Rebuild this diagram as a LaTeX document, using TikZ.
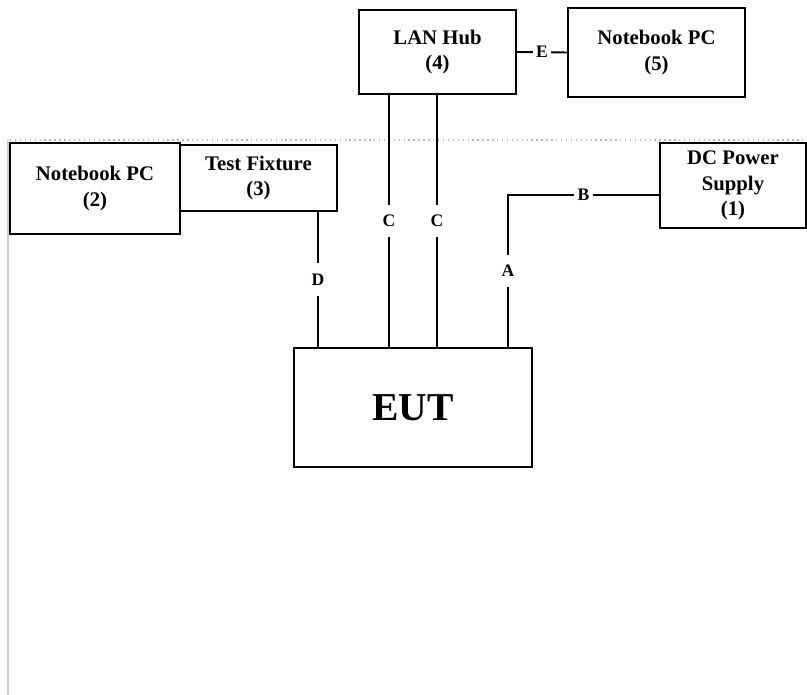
\documentclass[tikz,border=0pt]{standalone}
\usepackage{fontspec}
\setmainfont{Liberation Serif}
\usepackage{tikz}
\usetikzlibrary{shapes,arrows}
\tikzstyle{unit} = [rectangle, draw=black, line width=1.3pt, align=center, inner sep=0pt, font=\fontsize{11.8}{14.5}\selectfont\bfseries]
\tikzstyle{cable} = [draw, line width=1.1pt]
\tikzstyle{tag} = [fill=white, inner xsep=2pt, inner ysep=6pt, font=\fontsize{10}{12}\selectfont\bfseries]

\begin{document}
\begin{tikzpicture}[x=0.02cm,y=-0.02cm]
    \useasboundingbox (0,0) rectangle (807,695);
    \begin{scope}

    % page frame
    \draw[gray!55, line width=0.8pt, dotted] (10,140) -- (807,140);
    \draw[gray!40, line width=1.2pt] (8,140) -- (8,695);

    \node[unit, minimum width=3.4cm, minimum height=1.82cm] (nbtwo) at (95,188.5) {Notebook PC\\(2)};
    \node[unit, minimum width=3.14cm, minimum height=1.32cm] (fixture) at (258.5,178) {Test Fixture\\(3)};
    \node[unit, minimum width=3.14cm, minimum height=1.68cm] (hub) at (437.5,52) {LAN Hub\\(4)};
    \node[unit, minimum width=3.54cm, minimum height=1.78cm] (nbfive) at (656.5,52.5) {Notebook PC\\(5)};
    \node[unit, minimum width=2.92cm, minimum height=1.7cm] (dcps) at (733,185.5) {DC Power\\Supply\\(1)};
    \node[unit, minimum width=4.76cm, minimum height=2.38cm, font=\fontsize{22.5}{26}\selectfont\bfseries] (eut) at (413,407.5) {EUT};

    %\draw (nbtwo.east) -- (fixture.west);
    \path[cable] (hub.east) -- node[tag] {E} (nbfive.west);
    \path[cable] (318,0 |- fixture.south) -- node[tag] {D} (318,0 |- eut.north);
    \path[cable] (389,0 |- hub.south) -- node[tag] {C} (389,0 |- eut.north);
    \path[cable] (437,0 |- hub.south) -- node[tag] {C} (437,0 |- eut.north);
    \coordinate (bend) at (508,195);
    \path[cable] (bend |- eut.north) -- node[tag] {A} (bend) -- node[tag] {B} (bend -| dcps.west);

    \end{scope}
\end{tikzpicture}
\end{document}
